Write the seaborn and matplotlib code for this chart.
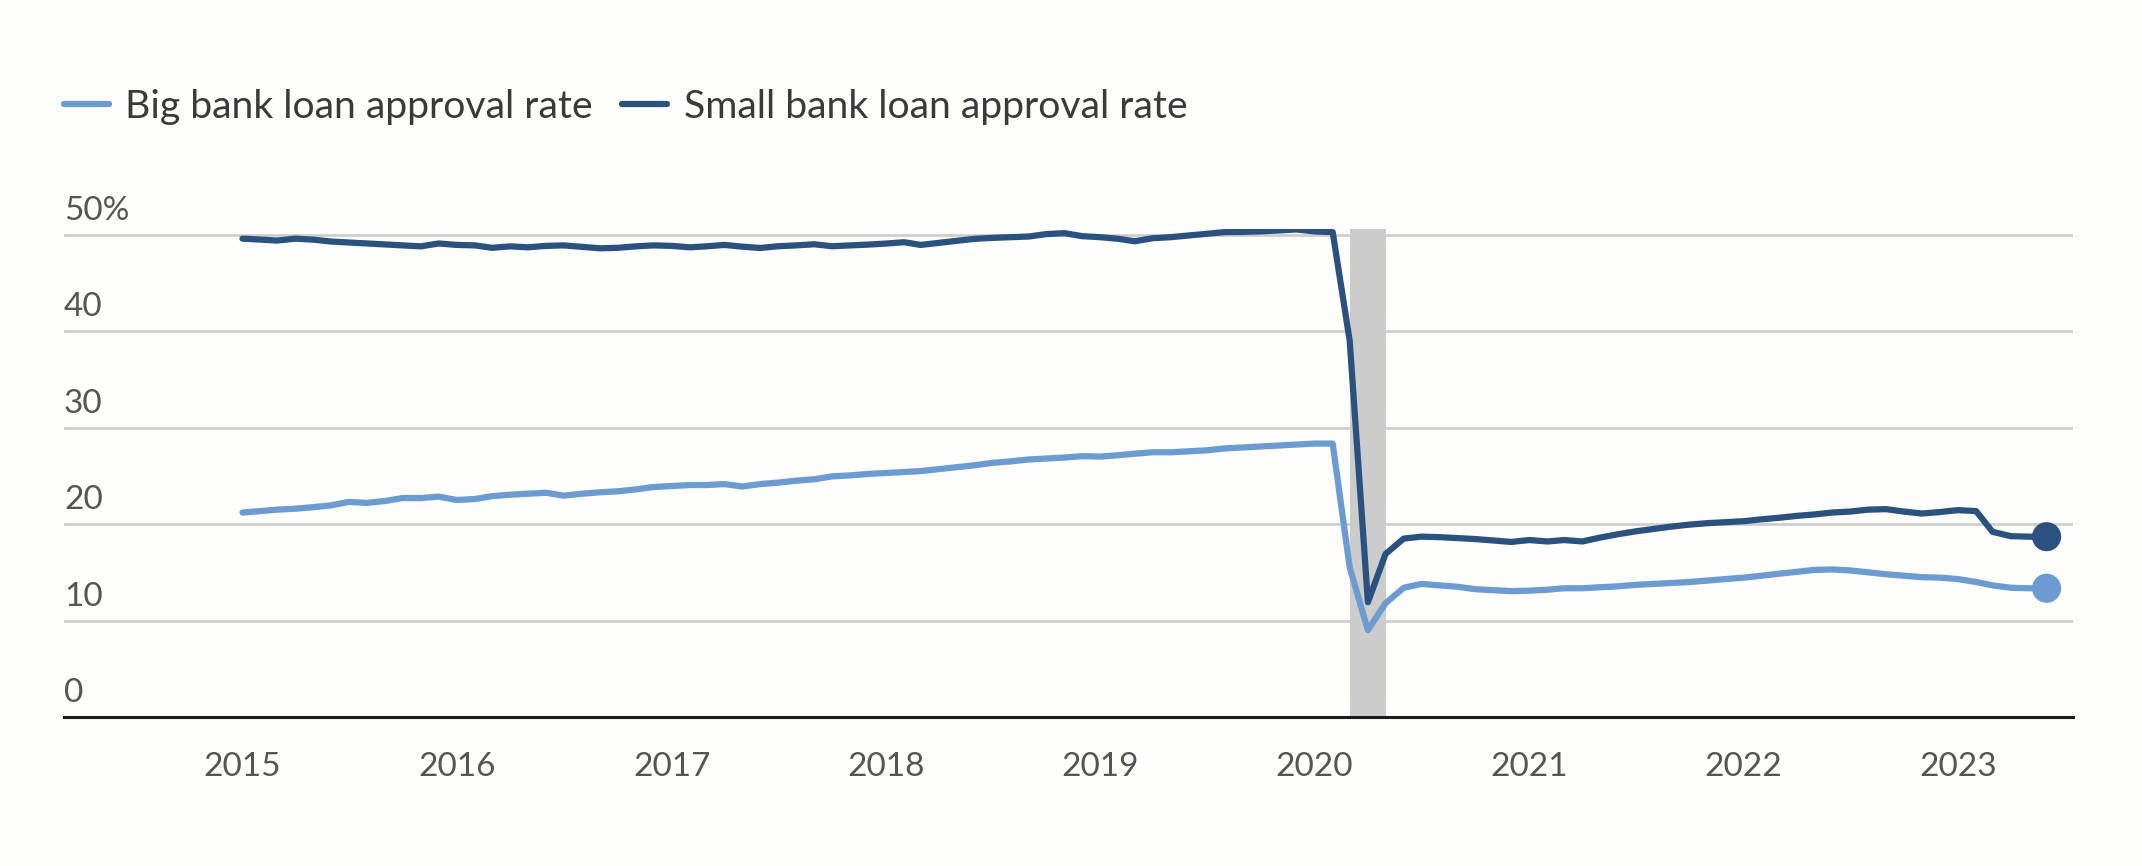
import matplotlib
matplotlib.use("Agg")
import matplotlib.pyplot as plt
import matplotlib.transforms as mtrans
import matplotlib.dates as mdates
import seaborn as sns
import pandas as pd
import numpy as np

# ---------------- data ----------------
start_month = "2015-01-01"
n_months = 102  # Jan 2015 .. Jun 2023

big_bank = [
    21.2, 21.35, 21.5, 21.6, 21.75, 21.95, 22.3, 22.2, 22.4, 22.7, 22.7, 22.85,
    22.5, 22.6, 22.9, 23.05, 23.15, 23.25, 22.95, 23.15, 23.3, 23.4, 23.6, 23.85,
    23.95, 24.05, 24.05, 24.15, 23.9, 24.15, 24.3, 24.5, 24.65, 24.95, 25.05, 25.2,
    25.3, 25.4, 25.5, 25.7, 25.9, 26.1, 26.35, 26.5, 26.7, 26.8, 26.9, 27.05,
    27.0, 27.15, 27.3, 27.45, 27.45, 27.55, 27.65, 27.85, 27.95, 28.05, 28.15, 28.25,
    28.35, 28.35, 15.5, 9.0, 11.8, 13.4, 13.8, 13.65, 13.5, 13.25, 13.15, 13.05,
    13.1, 13.2, 13.35, 13.35, 13.45, 13.55, 13.7, 13.8, 13.9, 14.0, 14.15, 14.3,
    14.45, 14.65, 14.85, 15.05, 15.25, 15.3, 15.2, 15.0, 14.8, 14.65, 14.5, 14.45,
    14.3, 14.0, 13.65, 13.4, 13.35, 13.35,
]
small_bank = [
    49.6, 49.5, 49.4, 49.6, 49.5, 49.3, 49.2, 49.1, 49.0, 48.9, 48.8, 49.1,
    48.95, 48.9, 48.65, 48.8, 48.7, 48.85, 48.9, 48.75, 48.6, 48.65, 48.8, 48.9,
    48.85, 48.7, 48.8, 48.95, 48.77, 48.63, 48.81, 48.9, 49.02, 48.81, 48.9, 48.98,
    49.09, 49.23, 48.95, 49.16, 49.37, 49.58, 49.68, 49.75, 49.82, 50.07, 50.17, 49.86,
    49.75, 49.58, 49.33, 49.65, 49.75, 49.93, 50.1, 50.28, 50.3, 50.35, 50.45, 50.55,
    50.35, 50.28, 39.0, 11.9, 16.9, 18.5, 18.7, 18.65, 18.55, 18.45, 18.3, 18.15,
    18.35, 18.2, 18.35, 18.2, 18.6, 18.95, 19.25, 19.5, 19.75, 19.95, 20.1, 20.2,
    20.3, 20.5, 20.65, 20.85, 21.0, 21.2, 21.3, 21.5, 21.55, 21.3, 21.1, 21.25,
    21.45, 21.35, 19.2, 18.75, 18.7, 18.7,
]
series_names = ["Big bank loan approval rate", "Small bank loan approval rate"]
series_colors = ["#6b9bd1", "#2b527f"]
recession = ["2020-03-01", "2020-05-01"]
y_ticks = [0, 10, 20, 30, 40, 50]
y_tick_labels = ["0", "10", "20", "30", "40", "50%"]
x_years = list(range(2015, 2024))

dates = pd.date_range(start_month, periods=n_months, freq="MS")
df = pd.DataFrame({
    "date": np.concatenate([dates, dates]),
    "value": big_bank + small_bank,
    "series": [series_names[0]] * n_months + [series_names[1]] * n_months,
})
last = df.groupby("series").tail(1)

# ---------------- style ----------------
sns.set_theme(style="white")
plt.rcParams["font.family"] = ["Lato", "DejaVu Sans"]
BG = "#fdfdfb"

W, H = 2142, 866
fig = plt.figure(figsize=(W / 100, H / 100), dpi=100, facecolor=BG)
ax = fig.add_axes([64 / W, 1 - 717 / H, (2073 - 64) / W, (717 - 229) / H])
ax.set_facecolor(BG)

palette = dict(zip(series_names, series_colors))

ax.axvspan(pd.Timestamp(recession[0]), pd.Timestamp(recession[1]),
           color="#cccccc", lw=0, zorder=1)

sns.lineplot(data=df, x="date", y="value", hue="series", palette=palette,
             linewidth=4.5, ax=ax, zorder=3, legend=True)
sns.scatterplot(data=last, x="date", y="value", hue="series", palette=palette,
                s=440, edgecolor="none", ax=ax, zorder=4, legend=False)

ax.set_ylim(0, 50.6)
ax.set_xlim(pd.Timestamp("2014-03-03"), pd.Timestamp("2023-07-16"))
ax.set_xlabel("")
ax.set_ylabel("")

# grid
ax.set_yticks(y_ticks)
ax.yaxis.grid(True, color="#cccccc", linewidth=1.9)
ax.xaxis.grid(False)
ax.set_axisbelow(True)
ax.tick_params(axis="y", length=0, labelleft=False)

for s in ["top", "right", "left"]:
    ax.spines[s].set_visible(False)
ax.spines["bottom"].set_color("#1a1a1a")
ax.spines["bottom"].set_linewidth(2.2)
ax.spines["bottom"].set_zorder(5)

# y labels sitting above grid lines
trans = mtrans.offset_copy(
    mtrans.blended_transform_factory(ax.transAxes, ax.transData),
    fig=fig, x=0, y=15, units="dots")
for v, lab in zip(y_ticks, y_tick_labels):
    ax.text(0, v, lab, transform=trans, ha="left", va="baseline",
            fontsize=24, color="#555555")

# x ticks
ax.set_xticks([pd.Timestamp(f"{y}-01-01") for y in x_years])
ax.xaxis.set_major_formatter(mdates.DateFormatter("%Y"))
ax.tick_params(axis="x", length=0, pad=25, labelsize=24, labelcolor="#555555")

# legend
handles, labels = ax.get_legend_handles_labels()
ax.get_legend().remove()
leg = fig.legend(handles, labels, loc="center left",
                 bbox_to_anchor=(64 / W, 1 - 107 / H), ncol=2, frameon=False,
                 fontsize=28.2, handlelength=1.15, handletextpad=0.42,
                 columnspacing=0.74, borderpad=0, borderaxespad=0)
for t in leg.get_texts():
    t.set_color("#3a3a3a")
for l in leg.get_lines():
    l.set_linewidth(4.5)

fig.savefig("out.png", dpi=100, facecolor=BG)
